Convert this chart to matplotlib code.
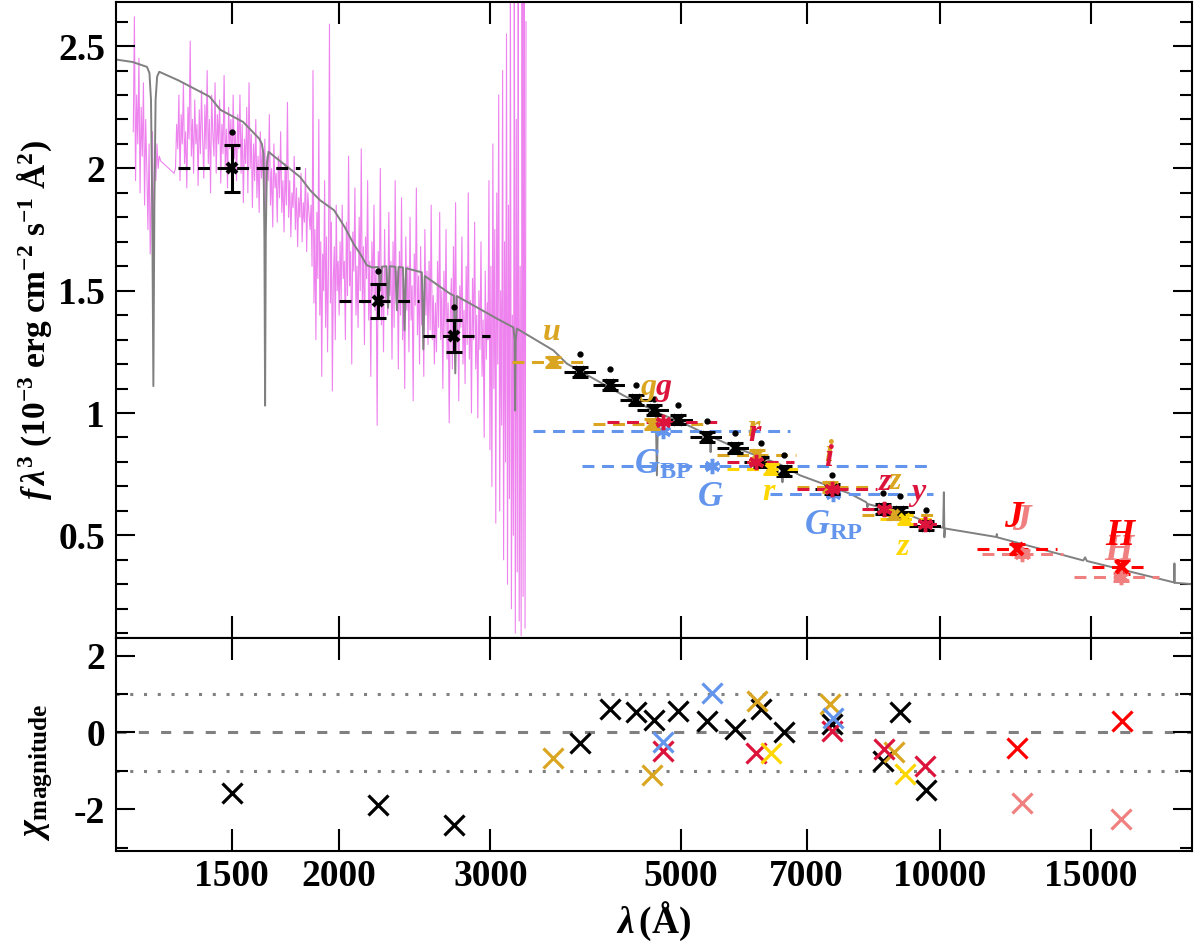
import numpy as np
import matplotlib
matplotlib.use("Agg")
import matplotlib.pyplot as plt
from matplotlib.ticker import FixedLocator, NullLocator, MultipleLocator, FuncFormatter

plt.rcParams.update({
    "font.family": ["Liberation Serif", "DejaVu Serif"],
    "font.weight": "bold",
    "axes.labelweight": "bold",
    "mathtext.fontset": "custom",
    "mathtext.rm": "Liberation Serif:bold",
    "mathtext.it": "Liberation Serif:italic:bold",
    "mathtext.bf": "Liberation Serif:bold",
    "mathtext.sf": "Liberation Serif:bold",
    "mathtext.fallback": "stix",
    "axes.linewidth": 1.5,
})

# ---------------- data ----------------
# observed UV spectrum (flux, 1e-3 units), read segment by segment
spec_a_range = (1152, 1235)
spec_a = [2.15, 2.62, 1.95, 2.30, 2.10, 2.45, 1.90, 2.25, 2.05, 2.35, 1.85, 2.20,
          2.00, 1.75, 2.10, 1.65, 1.90, 2.15, 1.70, 2.05, 1.95, 2.10, 2.00, 2.05]
spec_gap_wl = [1240, 1285]
spec_gap = [2.03, 1.98]
spec_b_range = (1290, 1850)
spec_b = [2.00, 2.18, 2.08, 2.30, 1.95, 2.22, 2.10, 2.35, 2.02, 2.15, 1.92, 2.25,
          2.12, 2.52, 2.05, 2.20, 1.98, 2.28, 2.10, 2.18, 1.93, 2.24, 2.06, 2.32,
          2.12, 1.96, 2.26, 2.08, 2.40, 2.02, 2.20, 1.90, 2.30, 2.14, 2.05, 2.35,
          1.98, 2.22, 2.10, 2.28, 1.94, 2.18, 2.06, 2.38, 2.00, 2.16, 1.92, 2.25,
          2.08, 2.20, 1.97, 2.30, 2.04, 2.15, 1.95, 2.22,
          2.08, 2.30, 1.98, 2.18, 1.86, 2.12, 2.02, 2.25, 1.90, 2.35, 2.00, 2.14,
          1.84, 2.10, 1.95, 2.20, 1.88, 2.05, 1.82, 2.15, 1.96, 2.08,
          1.90, 2.12, 1.80, 2.05, 1.95, 2.22, 1.85, 2.00, 1.76, 2.10, 1.92, 1.98,
          1.78, 2.05, 1.88, 2.15, 1.82, 1.95, 1.74, 2.02,
          1.85, 2.27, 1.80, 1.95, 1.72, 1.90, 1.84, 2.05, 1.75, 1.92, 1.68, 1.88,
          1.80, 1.98, 1.70, 1.86, 1.78, 2.00, 1.66, 1.90, 1.82, 1.75]
spec_c_range = (1855, 2000)
spec_c = [1.85, 1.60, 2.40, 1.45, 1.75, 1.30, 1.82, 1.55, 2.20, 1.40, 1.70, 1.15,
          1.65, 1.50, 1.95, 1.35, 1.72, 1.25, 1.60, 2.59, 1.45, 1.78, 1.09, 1.55,
          1.68, 1.30, 1.85, 1.50, 1.62, 1.40]
spec_d_range = (2005, 2975)
spec_d = [1.70, 1.45, 1.85, 1.55, 1.62, 1.30, 1.78, 1.48, 2.05, 1.52, 1.66, 1.20,
          1.74, 1.58, 1.92, 1.40, 1.60, 1.35, 1.80, 1.50, 2.08, 1.45, 1.68, 1.28,
          1.72, 1.55, 1.95, 1.38, 1.62, 1.15, 1.70, 1.48, 1.85, 1.42, 1.58, 0.95,
          1.66, 1.50, 2.00, 1.36, 1.60, 1.25, 1.75, 1.45, 1.55,
          1.40, 1.82, 1.48, 1.62, 1.22, 1.70, 1.35, 1.95, 1.45, 1.58, 1.18, 1.66,
          1.40, 1.88, 1.30, 1.55, 1.10, 1.72, 1.42, 1.60, 1.25, 1.80, 1.38, 1.52,
          1.05, 1.65, 1.44, 1.92, 1.32, 1.56, 1.20, 1.68, 1.36, 1.50, 1.15, 1.75,
          1.40, 1.58, 1.28, 1.62, 1.34, 1.85, 1.30, 1.48, 1.20,
          1.45, 1.25, 1.62, 1.35, 1.82, 1.30, 1.50, 1.10, 1.58, 1.32, 1.75, 1.22,
          1.45, 0.96, 1.40, 1.55, 1.18, 1.68, 1.30, 1.86, 1.25, 1.48, 1.05, 1.52,
          1.35, 1.72, 1.20, 1.42, 1.12, 1.60, 1.28, 1.90, 1.22, 1.46, 1.00, 1.55,
          1.30, 1.78, 1.18, 1.40, 0.98, 1.50, 1.26, 1.70, 1.15, 1.38, 0.90, 1.58,
          1.22, 1.45]
spec_e_range = (2980, 3300)
spec_e = [1.30, 1.95, 0.85, 1.60, 0.70, 2.10, 1.10, 1.75, 0.55, 1.90, 1.20, 2.30,
          0.60, 1.50, 0.95, 2.40, 0.40, 1.70, 0.80, 2.55, 0.30, 1.85, 0.65, 2.70,
          0.20, 1.40, 0.50, 2.75, 0.10, 2.20, 0.35, 2.80, 0.15, 1.60, 0.09, 2.75,
          0.25, 2.80, 0.12, 2.60]

# model atmosphere (wavelength, flux)
model_pts = [(1100, 2.445), (1150, 2.435), (1195, 2.415), (1203, 2.39), (1208, 2.28),
             (1212, 1.85), (1215.7, 1.11), (1219, 1.85), (1223, 2.28), (1228, 2.375),
             (1235, 2.395), (1300, 2.36), (1414, 2.293), (1454, 2.24), (1546, 2.19),
             (1614, 2.122), (1626, 2.10), (1633, 2.06), (1637, 1.72), (1640, 1.03),
             (1643, 1.72), (1648, 2.02), (1655, 2.068), (1700, 2.035), (1750, 2.00),
             (1801, 1.965), (1850, 1.911), (1900, 1.87), (1973, 1.829), (2030, 1.76),
             (2080, 1.69), (2115, 1.652), (2154, 1.604), (2187, 1.595), (2222, 1.597),
             (2232, 1.50), (2242, 1.598), (2270, 1.60), (2280, 1.43), (2290, 1.60),
             (2325, 1.598), (2335, 1.42), (2345, 1.597), (2373, 1.595), (2383, 1.338),
             (2393, 1.592), (2496, 1.575), (2506, 1.26), (2516, 1.56), (2691, 1.488),
             (2720, 1.48), (2730, 1.162), (2740, 1.478), (2767, 1.47), (3052, 1.386),
             (3190, 1.35), (3200, 1.30), (3205, 1.01), (3210, 1.30), (3220, 1.345),
             (3551, 1.256), (3681, 1.202), (4283, 1.072), (4561, 1.024), (4672, 1.005),
             (4686, 0.745), (4700, 1.0), (5000, 0.963), (5398, 0.907), (5411, 0.84),
             (5424, 0.903), (5770, 0.86), (6546, 0.787), (6560, 0.717), (6574, 0.783),
             (6879, 0.745), (7864, 0.67), (8213, 0.635), (8227, 0.630), (8237, 0.615),
             (8247, 0.628), (9236, 0.581), (10009, 0.533), (10090, 0.531), (10110, 0.676),
             (10124, 0.492), (10140, 0.528), (11640, 0.493), (11650, 0.505), (11660, 0.492),
             (14690, 0.397), (14760, 0.41), (14830, 0.395), (18700, 0.308), (18740, 0.307),
             (18752, 0.385), (18762, 0.306), (19700, 0.30)]

# black photometry (GALEX + synthetic)
blk_wl = [1500, 2220, 2720, 3818, 4138, 4436, 4648, 4958, 5362, 5770, 6192, 6583,
          7490, 8580, 8990, 9640]
blk_lo = [1298, 2000, 2504, 3650, 3950, 4240, 4440, 4735, 5120, 5510, 5910, 6285,
          7150, 8195, 8585, 9205]
blk_hi = [1801, 2474, 3000, 3990, 4325, 4635, 4860, 5180, 5605, 6030, 6475, 6880,
          7830, 8965, 9395, 10075]
blk_flux = [2.0, 1.457, 1.315, 1.167, 1.113, 1.052, 1.011, 0.973, 0.901, 0.856,
            0.800, 0.762, 0.690, 0.608, 0.594, 0.540]
blk_err = [0.096, 0.07, 0.065, 0.02, 0.02, 0.02, 0.02, 0.02, 0.02, 0.02, 0.02,
           0.02, 0.02, 0.02, 0.02, 0.02]
blk_synth = [2.149, 1.581, 1.433, 1.243, 1.181, 1.116, 1.058, 1.034, 0.966, 0.918,
             0.877, 0.827, 0.748, 0.672, 0.659, 0.602]
blk_chi = [-1.58, -1.89, -2.42, -0.28, 0.60, 0.545, 0.33, 0.57, 0.31, 0.09, 0.60,
           0.02, 0.22, -0.75, 0.54, -1.51]

# SDSS (goldenrod)
sdss_wl = [3550, 4623, 6120, 7455, 8838]
sdss_lo = [3177, 3950, 5503, 6818, 8117]
sdss_hi = [3918, 5400, 6795, 8255, 10000]
sdss_flux = [1.208, 0.956, 0.827, 0.697, 0.585]
sdss_chi = [-0.66, -1.10, 0.83, 0.75, -0.51]
sdss_names = ["u", "g", "r", "i", "z"]
sdss_lab = [(3536, 1.331), (4585, 1.106), (6075, 0.935), (7420, 0.833), (8880, 0.72)]

# Pan-STARRS (crimson)
ps_wl = [4758, 6110, 7490, 8615, 9603]
ps_lo = [4100, 5652, 6820, 8117, 9110]
ps_hi = [5500, 6765, 8440, 9060, 10009]
ps_flux = [0.963, 0.799, 0.690, 0.608, 0.545]
ps_chi = [-0.48, -0.53, 0.04, -0.44, -0.88]
ps_names = ["g", "r", "i", "z", "y"]
ps_lab = [(4770, 1.104), (6090, 0.915), (7420, 0.813), (8639, 0.717), (9443, 0.676)]

# Gaia (cornflowerblue)
gaia_wl = [4764, 5430, 7510]
gaia_lo = [3363, 3832, 6353]
gaia_hi = [6698, 9743, 9820]
gaia_flux = [0.926, 0.783, 0.667]
gaia_chi = [-0.26, 1.04, 0.37]
gaia_names = [r"$G_{\mathrm{BP}}$", r"$G$", r"$G_{\mathrm{RP}}$"]
gaia_lab = [(4762, 0.786), (5404, 0.656), (7519, 0.536)]

# gold survey (r, z)
yel_wl = [6360, 9113]
yel_lo = [5652, 8516]
yel_hi = [6960, 9875]
yel_flux = [0.772, 0.565]
yel_chi = [-0.53, -1.07]
yel_names = ["r", "z"]
yel_lab = [(6319, 0.676), (9073, 0.452)]

# 2MASS (red)
tm_wl = [12290, 16300]
tm_lo = [11040, 15030]
tm_hi = [13680, 17410]
tm_flux = [0.445, 0.37]
tm_err = [0.02, 0.03]
tm_chi = [-0.41, 0.31]
tm_names = ["J", "H"]
tm_lab = [(12180, 0.574), (16220, 0.50)]

# UKIDSS (lightcoral)
uk_wl = [12450, 16230]
uk_lo = [11200, 14330]
uk_hi = [13900, 18010]
uk_flux = [0.425, 0.33]
uk_err = [0.015, 0.015]
uk_chi = [-1.84, -2.26]
uk_names = ["J", "H"]
uk_lab = [(12430, 0.56), (16150, 0.438)]

xticks = [1500, 2000, 3000, 5000, 7000, 10000, 15000]

# ---------------- figure ----------------
fig = plt.figure(figsize=(12, 9.43), dpi=100)
ax1 = fig.add_axes([0.0967, 0.3234, 0.8967, 0.6744])
ax2 = fig.add_axes([0.0967, 0.0979, 0.8967, 0.2255], sharex=ax1)

spec_wl = np.concatenate([np.geomspace(*spec_a_range, len(spec_a)), spec_gap_wl,
                          np.geomspace(*spec_b_range, len(spec_b)),
                          np.geomspace(*spec_c_range, len(spec_c)),
                          np.geomspace(*spec_d_range, len(spec_d)),
                          np.geomspace(*spec_e_range, len(spec_e))])
spec_fl = np.concatenate([spec_a, spec_gap, spec_b, spec_c, spec_d, spec_e])
ax1.plot(spec_wl, spec_fl, color="violet", lw=0.8, zorder=1)

mw, mf = zip(*model_pts)
ax1.plot(mw, mf, color="#808080", lw=1.4, zorder=2)

dash = (0, (3.9, 2.5))


def phot(ax, wl, lo, hi, fl, err, color, marker, ms, mew, z=4):
    ax.hlines(fl, lo, hi, colors=color, linestyles=[dash], lw=2.2, zorder=z)
    if err is not None:
        ax.errorbar(wl, fl, yerr=err, fmt="none", ecolor=color, elinewidth=2.2,
                    capsize=6, capthick=2.2, zorder=z + 0.1)
    ax.plot(wl, fl, ls="none", marker=marker, color=color, ms=ms, mew=mew,
            zorder=z + 0.2)


ast = (6, 2, 0)
phot(ax1, blk_wl, blk_lo, blk_hi, blk_flux, blk_err, "black", "x", 7, 3)
ax1.plot(blk_wl, blk_synth, ls="none", marker="o", ms=3.5, color="black", zorder=5)
phot(ax1, gaia_wl, gaia_lo, gaia_hi, gaia_flux, None, "cornflowerblue", ast, 11, 2.5, z=3)
phot(ax1, sdss_wl, sdss_lo, sdss_hi, sdss_flux, [0.02] * 5, "goldenrod", "x", 7, 3)
phot(ax1, yel_wl, yel_lo, yel_hi, yel_flux, [0.02] * 2, "gold", "x", 7, 3)
phot(ax1, ps_wl, ps_lo, ps_hi, ps_flux, None, "crimson", ast, 11, 2.5)
phot(ax1, uk_wl, uk_lo, uk_hi, uk_flux, uk_err, "lightcoral", ast, 11, 2.5)
phot(ax1, tm_wl, tm_lo, tm_hi, tm_flux, tm_err, "red", "x", 8, 3)

tkw = dict(ha="center", va="center", fontweight="bold", zorder=7)
for n, (x, y) in zip(sdss_names, sdss_lab):
    ax1.text(x, y, n, color="goldenrod", fontsize=23, style="italic", **tkw)
for n, (x, y) in zip(ps_names, ps_lab):
    ax1.text(x, y, n, color="crimson", fontsize=23, style="italic", **tkw)
for n, (x, y) in zip(gaia_names, gaia_lab):
    ax1.text(x, y, n, color="cornflowerblue", fontsize=25, **tkw)
for n, (x, y) in zip(yel_names, yel_lab):
    ax1.text(x, y, n, color="gold", fontsize=23, style="italic", **tkw)
for n, (x, y) in zip(uk_names, uk_lab):
    ax1.text(x, y, n, color="lightcoral", fontsize=27, style="italic", **tkw)
for n, (x, y) in zip(tm_names, tm_lab):
    ax1.text(x, y, n, color="red", fontsize=27, style="italic", **tkw)

# residual panel
ax2.axhline(0, color="gray", lw=2.2, ls=(0, (3.3, 4)), zorder=1)
for v in (-1, 1):
    ax2.axhline(v, color="gray", lw=2.2, ls=(0, (1, 3.5)), zorder=1)
rkw = dict(ls="none", marker="x", ms=15, mew=2.3, zorder=3)
ax2.plot(blk_wl, blk_chi, color="black", **rkw)
ax2.plot(sdss_wl, sdss_chi, color="goldenrod", **rkw)
ax2.plot(ps_wl, ps_chi, color="crimson", **rkw)
ax2.plot(gaia_wl, gaia_chi, color="cornflowerblue", **rkw)
ax2.plot(yel_wl, yel_chi, color="gold", **rkw)
ax2.plot(tm_wl, tm_chi, color="red", **rkw)
ax2.plot(uk_wl, uk_chi, color="lightcoral", **rkw)

# axes
ax1.set_xscale("log")
ax1.set_xlim(1100, 19660)
ax1.set_ylim(0.08, 2.68)
ax2.set_ylim(-3.08, 2.46)
for ax in (ax1, ax2):
    ax.xaxis.set_major_locator(FixedLocator(xticks))
    ax.xaxis.set_minor_locator(NullLocator())
    ax.tick_params(which="both", direction="in", top=True, right=True,
                   labelsize=27, width=1.5)
    ax.tick_params(axis="y", which="major", length=14, pad=8)
    ax.tick_params(axis="y", which="minor", length=8.5)
    ax.tick_params(axis="x", which="major", length=16, pad=6)
ax1.tick_params(labelbottom=False)
ax1.yaxis.set_major_locator(MultipleLocator(0.5))
ax1.yaxis.set_minor_locator(MultipleLocator(0.1))
ax1.yaxis.set_major_formatter(FuncFormatter(lambda v, p: f"{v:g}"))
ax2.yaxis.set_major_locator(FixedLocator([-2, 0, 2]))
ax2.yaxis.set_minor_locator(FixedLocator([-3, -1, 1]))
ax2.yaxis.set_major_formatter(FuncFormatter(lambda v, p: f"{int(round(v))}"))
ax2.xaxis.set_major_formatter(FuncFormatter(lambda v, p: f"{v:g}"))

ax1.set_ylabel(r"$f\,\lambda^3$ (10$^{-3}$ erg cm$^{-2}$ s$^{-1}$ Å$^2$)", fontsize=24)
ax1.yaxis.set_label_coords(-0.058, 0.5)
ax2.set_ylabel(r"$\chi_{\mathrm{magnitude}}$", fontsize=26)
ax2.yaxis.set_label_coords(-0.058, 0.37)
ax2.set_xlabel(r"$\lambda\,$(Å)", fontsize=27)

fig.savefig("out.png", dpi=100)
